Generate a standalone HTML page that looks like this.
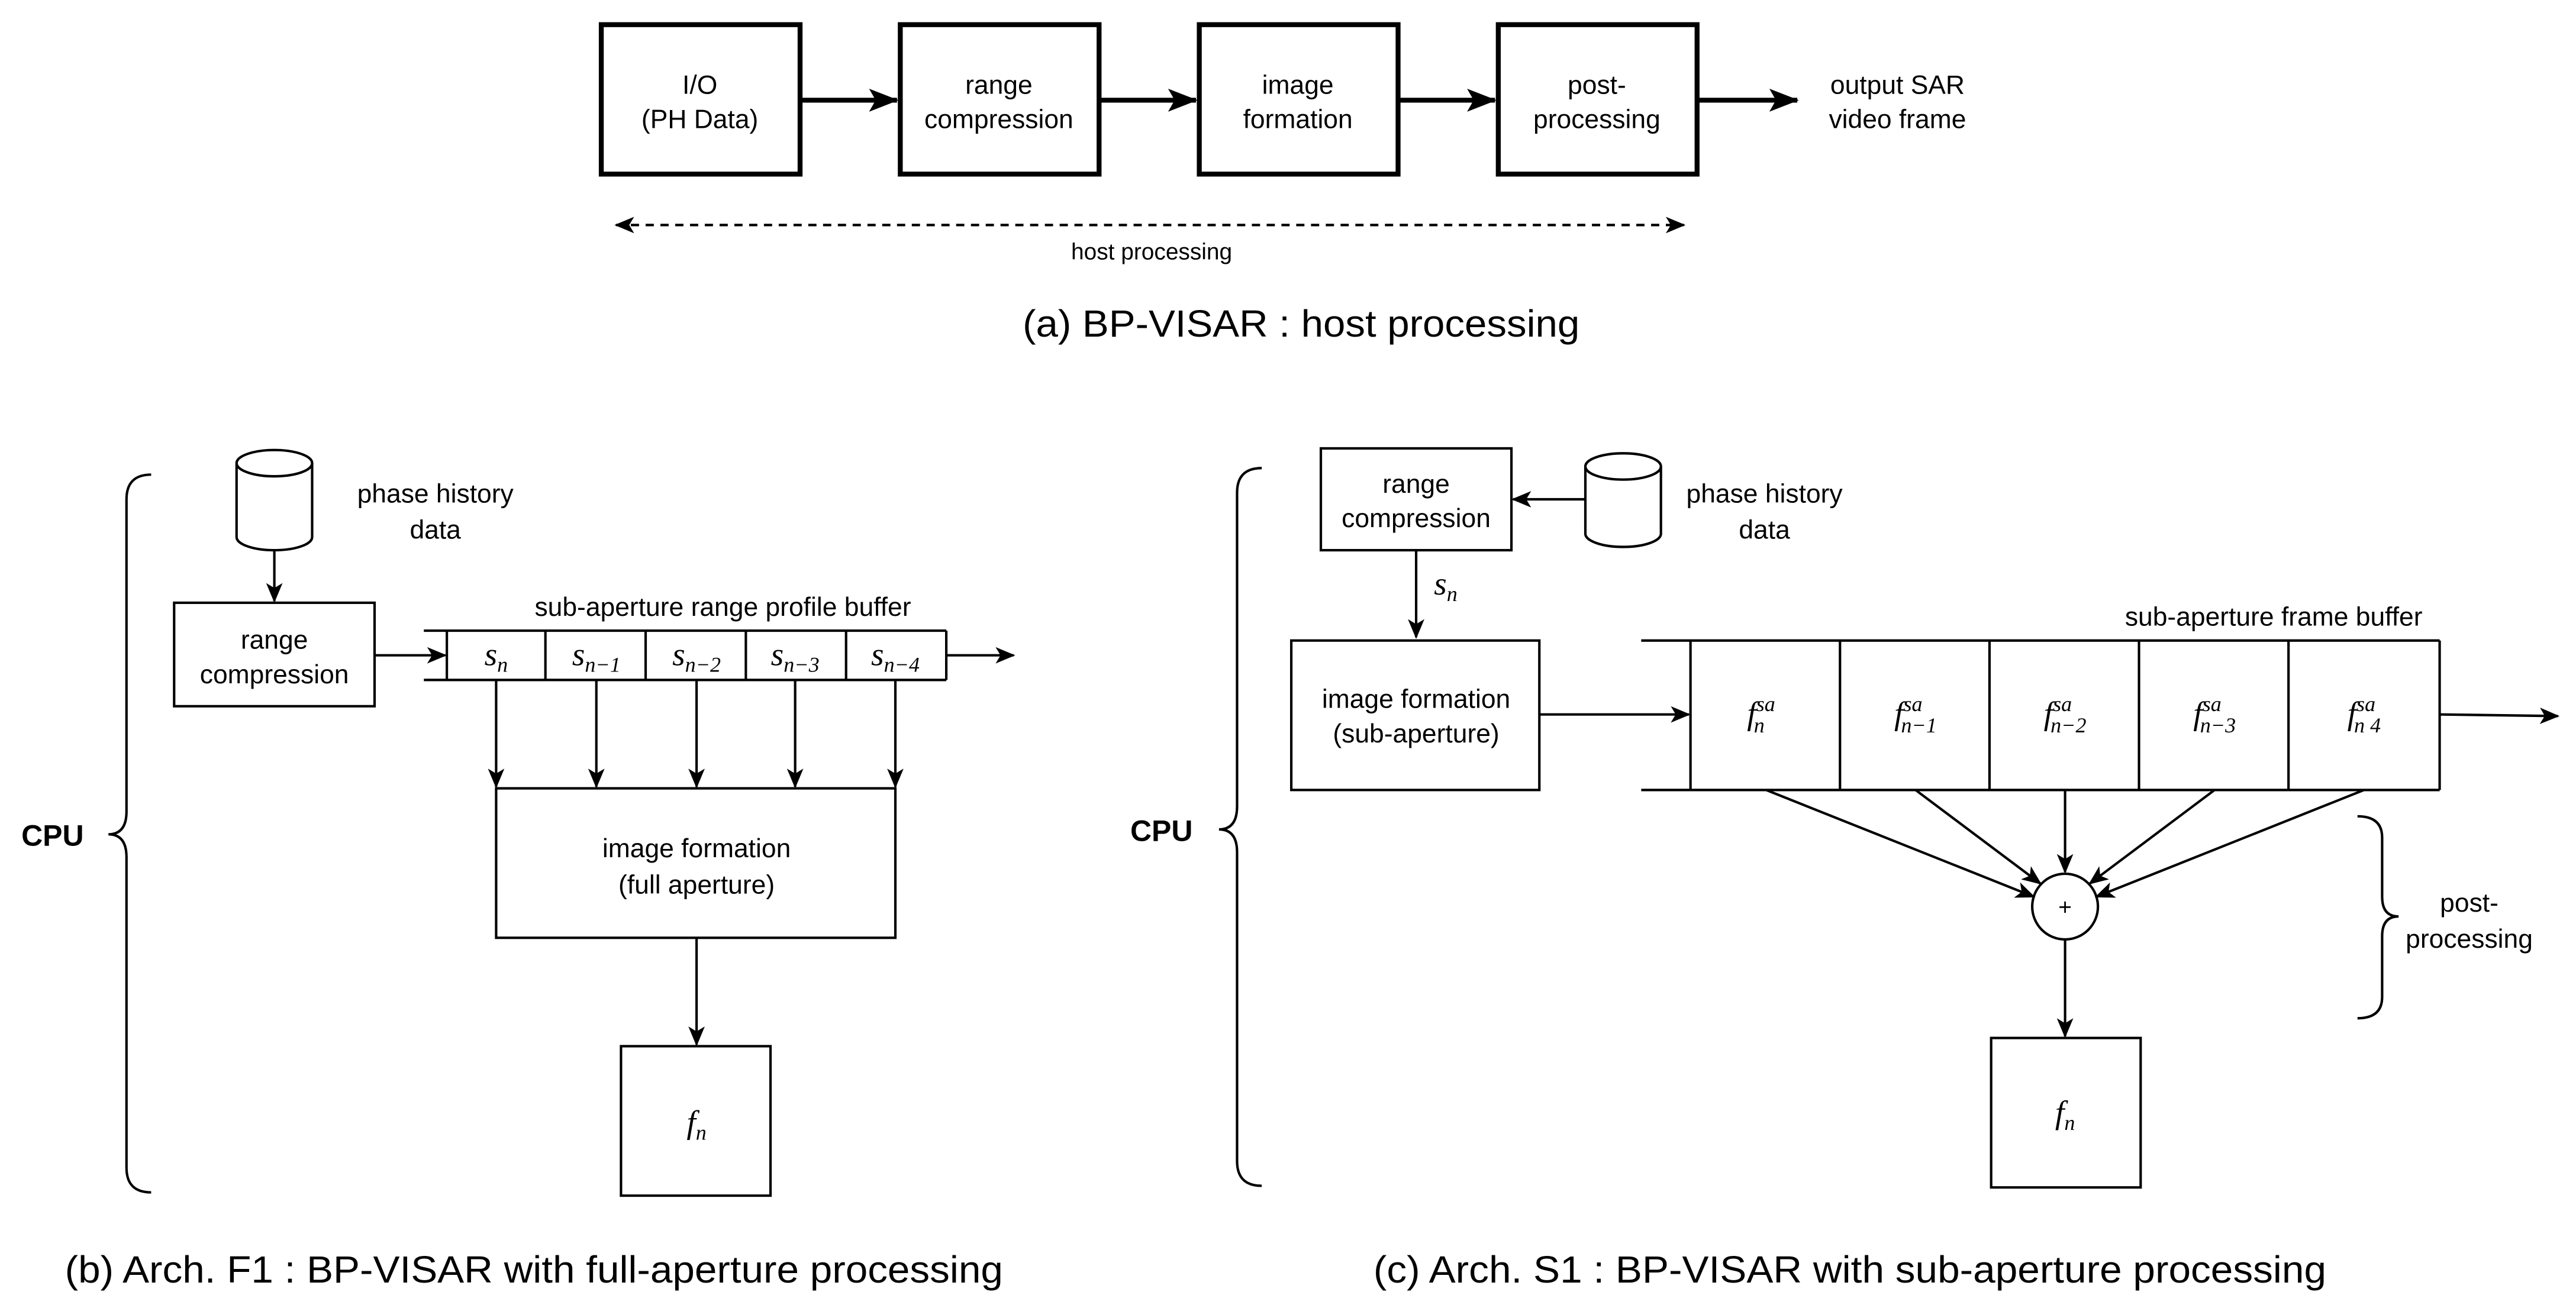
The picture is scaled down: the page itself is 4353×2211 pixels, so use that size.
<!DOCTYPE html>
<html><head><meta charset="utf-8"><style>
html,body{margin:0;padding:0;background:#fff;}
svg{display:block;}
text{font-family:"Liberation Sans",sans-serif;fill:#000;}
.m{font-family:"Liberation Serif",serif;font-style:italic;}
</style></head><body>
<svg width="4353" height="2211" viewBox="0 0 1568 796.4" xmlns="http://www.w3.org/2000/svg">
<defs>
<marker id="a" markerWidth="12" markerHeight="10" refX="11" refY="5" orient="auto" markerUnits="userSpaceOnUse"><path d="M0,0 L12,5 L0,10 L3,5 z" fill="#000"/></marker>
<marker id="A" markerWidth="18" markerHeight="14" refX="17" refY="7" orient="auto" markerUnits="userSpaceOnUse"><path d="M0,0 L18,7 L0,14 L4,7 z" fill="#000"/></marker>
<marker id="d" markerWidth="12" markerHeight="10" refX="11" refY="5" orient="auto" markerUnits="userSpaceOnUse"><path d="M0,0 L12,5 L0,10 L3,5 z" fill="#000"/></marker>
<marker id="ds" markerWidth="12" markerHeight="10" refX="1" refY="5" orient="auto" markerUnits="userSpaceOnUse"><path d="M12,0 L0,5 L12,10 L9,5 z" fill="#000"/></marker>
</defs>
<g fill="none" stroke="#000">
<g stroke-width="3">
<rect x="366" y="15" width="121" height="91"/>
<rect x="548" y="15" width="121" height="91"/>
<rect x="730" y="15" width="121" height="91"/>
<rect x="912" y="15" width="121" height="91"/>
<line x1="487" y1="61" x2="546" y2="61" marker-end="url(#A)"/>
<line x1="669" y1="61" x2="728" y2="61" marker-end="url(#A)"/>
<line x1="851" y1="61" x2="910" y2="61" marker-end="url(#A)"/>
<line x1="1033" y1="61" x2="1094" y2="61" marker-end="url(#A)"/>
</g>
<line x1="375" y1="137" x2="1025" y2="137" stroke-width="1.5" stroke-dasharray="5,4" marker-start="url(#ds)" marker-end="url(#d)"/>
<g stroke-width="1.5">
<path d="M92,289 Q77,289 77,304 L77,494 Q77,508 66,508 Q77,508 77,522 L77,711 Q77,726 92,726"/>
<path d="M144,282 L144,327 A23,8 0 0 0 190,327 L190,282 A23,8 0 0 0 144,282 A23,8 0 0 0 190,282"/>
<line x1="167" y1="335" x2="167" y2="366" marker-end="url(#a)"/>
<rect x="106" y="367" width="122" height="63"/>
<line x1="228" y1="399" x2="271" y2="399" marker-end="url(#a)"/>
<line x1="258" y1="384" x2="576" y2="384"/>
<line x1="258" y1="414" x2="576" y2="414"/>
<line x1="272" y1="384" x2="272" y2="414"/>
<line x1="332" y1="384" x2="332" y2="414"/>
<line x1="393" y1="384" x2="393" y2="414"/>
<line x1="454" y1="384" x2="454" y2="414"/>
<line x1="515" y1="384" x2="515" y2="414"/>
<line x1="576" y1="384" x2="576" y2="414"/>
<line x1="576" y1="399" x2="617" y2="399" marker-end="url(#a)"/>
<line x1="302" y1="414" x2="302" y2="479" marker-end="url(#a)"/>
<line x1="363" y1="414" x2="363" y2="479" marker-end="url(#a)"/>
<line x1="424" y1="414" x2="424" y2="479" marker-end="url(#a)"/>
<line x1="484" y1="414" x2="484" y2="479" marker-end="url(#a)"/>
<line x1="545" y1="414" x2="545" y2="479" marker-end="url(#a)"/>
<rect x="302" y="480" width="243" height="91"/>
<line x1="424" y1="571" x2="424" y2="636" marker-end="url(#a)"/>
<rect x="378" y="637" width="91" height="91"/>
</g>
<g stroke-width="1.5">
<path d="M768,285 Q753,285 753,300 L753,491 Q753,505 742,505 Q753,505 753,519 L753,707 Q753,722 768,722"/>
<rect x="804" y="273" width="116" height="62"/>
<path d="M965,284 L965,325 A23,8 0 0 0 1011,325 L1011,284 A23,8 0 0 0 965,284 A23,8 0 0 0 1011,284"/>
<line x1="965" y1="304" x2="921" y2="304" marker-end="url(#a)"/>
<line x1="862" y1="335" x2="862" y2="388" marker-end="url(#a)"/>
<rect x="786" y="390" width="151" height="91"/>
<line x1="937" y1="435" x2="1028" y2="435" marker-end="url(#a)"/>
<line x1="999" y1="390" x2="1485" y2="390"/>
<line x1="999" y1="481" x2="1485" y2="481"/>
<line x1="1029" y1="390" x2="1029" y2="481"/>
<line x1="1120" y1="390" x2="1120" y2="481"/>
<line x1="1211" y1="390" x2="1211" y2="481"/>
<line x1="1302" y1="390" x2="1302" y2="481"/>
<line x1="1393" y1="390" x2="1393" y2="481"/>
<line x1="1485" y1="390" x2="1485" y2="481"/>
<line x1="1485" y1="435" x2="1557" y2="436" marker-end="url(#a)"/>
<circle cx="1257" cy="552" r="20"/>
<line x1="1075" y1="481" x2="1238" y2="546" marker-end="url(#a)"/>
<line x1="1166" y1="481" x2="1242" y2="538" marker-end="url(#a)"/>
<line x1="1257" y1="481" x2="1257" y2="531" marker-end="url(#a)"/>
<line x1="1348" y1="481" x2="1272" y2="538" marker-end="url(#a)"/>
<line x1="1439" y1="481" x2="1276" y2="546" marker-end="url(#a)"/>
<line x1="1257" y1="572" x2="1257" y2="631" marker-end="url(#a)"/>
<rect x="1212" y="632" width="91" height="91"/>
<path d="M1435,497 Q1450,497 1450,510 L1450,546 Q1450,558 1460,558 Q1450,558 1450,570 L1450,607 Q1450,620 1435,620"/>
</g>
</g>
<g font-size="16" text-anchor="middle">
<text x="426" y="57">I/O</text><text x="426" y="78">(PH Data)</text>
<text x="608" y="57">range</text><text x="608" y="78">compression</text>
<text x="790" y="57">image</text><text x="790" y="78">formation</text>
<text x="972" y="57">post-</text><text x="972" y="78">processing</text>
<text x="1155" y="57">output SAR</text><text x="1155" y="78">video frame</text>
<text x="701" y="158" font-size="14">host processing</text>
<text x="792" y="205" font-size="23" textLength="339" lengthAdjust="spacingAndGlyphs">(a) BP-VISAR : host processing</text>

<text x="265" y="306">phase history</text><text x="265" y="328">data</text>
<text x="167" y="395">range</text><text x="167" y="416">compression</text>
<text x="440" y="375">sub-aperture range profile buffer</text>
<text x="424" y="522">image formation</text><text x="424" y="544">(full aperture)</text>
<text x="32" y="515" font-weight="bold" font-size="18">CPU</text>
<text x="325" y="781" font-size="23" textLength="571" lengthAdjust="spacingAndGlyphs">(b) Arch. F1 : BP-VISAR with full-aperture processing</text>

<text x="862" y="300">range</text><text x="862" y="321">compression</text>
<text x="1074" y="306">phase history</text><text x="1074" y="328">data</text>
<text x="862" y="431">image formation</text><text x="862" y="452">(sub-aperture)</text>
<text x="1384" y="381">sub-aperture frame buffer</text>
<text x="1257" y="557" font-size="14">+</text>
<text x="1503" y="555">post-</text><text x="1503" y="577">processing</text>
<text x="707" y="512" font-weight="bold" font-size="18">CPU</text>
<text x="1126" y="781" font-size="23" textLength="580" lengthAdjust="spacingAndGlyphs">(c) Arch. S1 : BP-VISAR with sub-aperture processing</text>
</g>
<g font-size="20" text-anchor="middle">
<text x="302" y="405" class="m">s<tspan font-size="13" dy="4">n</tspan></text>
<text x="363" y="405" class="m">s<tspan font-size="13" dy="4">n−1</tspan></text>
<text x="424" y="405" class="m">s<tspan font-size="13" dy="4">n−2</tspan></text>
<text x="484" y="405" class="m">s<tspan font-size="13" dy="4">n−3</tspan></text>
<text x="545" y="405" class="m">s<tspan font-size="13" dy="4">n−4</tspan></text>
<text x="880" y="362" class="m">s<tspan font-size="13" dy="4">n</tspan></text>
<text x="424" y="690" class="m">f<tspan font-size="13" dy="4">n</tspan></text>
<text x="1257" y="684" class="m">f<tspan font-size="13" dy="4">n</tspan></text>
</g>
<g font-size="20" text-anchor="middle">
<text x="1072" y="441" class="m">f<tspan font-size="13" dy="-8">sa</tspan><tspan font-size="13" dx="-13" dy="13">n</tspan></text>
<text x="1166" y="441" class="m">f<tspan font-size="13" dy="-8">sa</tspan><tspan font-size="13" dx="-13" dy="13">n−1</tspan></text>
<text x="1257" y="441" class="m">f<tspan font-size="13" dy="-8">sa</tspan><tspan font-size="13" dx="-13" dy="13">n−2</tspan></text>
<text x="1348" y="441" class="m">f<tspan font-size="13" dy="-8">sa</tspan><tspan font-size="13" dx="-13" dy="13">n−3</tspan></text>
<text x="1439" y="441" class="m">f<tspan font-size="13" dy="-8">sa</tspan><tspan font-size="13" dx="-13" dy="13">n  4</tspan></text>
</g>
</svg>
</body></html>
